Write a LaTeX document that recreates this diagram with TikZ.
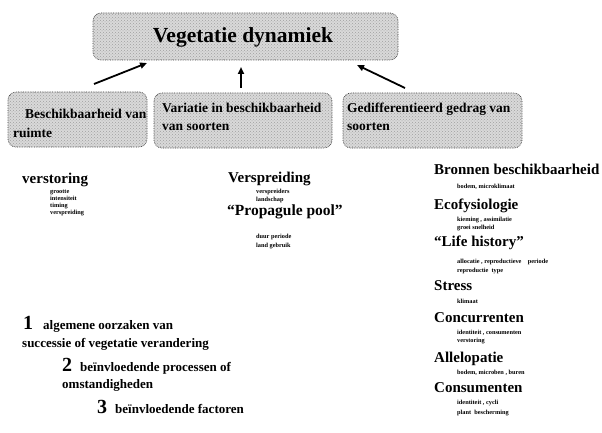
\documentclass[tikz,border=0pt]{standalone}
\usepackage{fontspec}
\setmainfont{Liberation Serif}
\usetikzlibrary{patterns,arrows.meta}
\begin{document}
\begin{tikzpicture}[x=1pt,y=-1pt,
  graybox/.style={draw=black!80, densely dotted, line width=0.7pt, rounded corners=8pt, fill=gray!30},
  dotfill/.style={pattern=crosshatch dots, pattern color=gray!75},
  boxtext/.style={anchor=base west, inner sep=0pt, font=\fontsize{13.5}{15}\selectfont\bfseries},
  head/.style={anchor=base west, inner sep=0pt, font=\fontsize{15}{17}\selectfont\bfseries},
  item/.style={anchor=base west, inner sep=0pt, font=\fontsize{6.3}{7}\selectfont\bfseries},
  legend/.style={anchor=base west, inner sep=0pt, font=\fontsize{13}{15}\selectfont\bfseries},
  num/.style={anchor=base west, inner sep=0pt, font=\fontsize{20}{22}\selectfont\bfseries},
  arr/.style={line width=1.8pt, -{Triangle[length=7pt,width=6pt]}}]
\useasboundingbox (0,0) rectangle (602,433);
% boxes
\draw[graybox] (93,13) rectangle (398,60);
\fill[dotfill, rounded corners=8pt] (93,13) rectangle (398,60);
\node[inner sep=0pt, font=\fontsize{21.5}{24}\selectfont\bfseries] (top) at (243,37) {Vegetatie dynamiek};
\draw[graybox] (8,92) rectangle (147,147);
\fill[dotfill, rounded corners=8pt] (8,92) rectangle (147,147);
\draw[graybox] (154,93) rectangle (332,148);
\fill[dotfill, rounded corners=8pt] (154,93) rectangle (332,148);
\draw[graybox] (343,93) rectangle (522,148);
\fill[dotfill, rounded corners=8pt] (343,93) rectangle (522,148);
\node[boxtext] (b1a) at (25,118) {Beschikbaarheid van};
\node[boxtext] (b1b) at (13,137) {ruimte};
\node[boxtext] (b2a) at (162,113) {Variatie in beschikbaarheid};
\node[boxtext] (b2b) at (162,131) {van soorten};
\node[boxtext] (b3a) at (347,113) {Gedifferentieerd gedrag van};
\node[boxtext] (b3b) at (347,131) {soorten};
% arrows
\coordinate (s1) at (94,84);
\coordinate (e1) at (147,63);
\coordinate (s2) at (241,88);
\coordinate (e2) at (241,67);
\coordinate (s3) at (405,88);
\coordinate (e3) at (357,65);
\draw[arr] (s1) -- (e1);
\draw[arr] (s2) -- (e2);
\draw[arr] (s3) -- (e3);
% left column
\node[head] (v1) at (22,183) {verstoring};
\node[item] (v1a) at (50,193) {grootte};
\node[item] (v1b) at (50,200) {intensiteit};
\node[item] (v1c) at (50,207) {timing};
\node[item] (v1d) at (50,214) {verspreiding};
% middle column
\node[head] (m1) at (228,182) {Verspreiding};
\node[item] (m1a) at (256,193) {verspreiders};
\node[item] (m1b) at (256,201) {landschap};
\node[head, font=\fontsize{15.5}{17}\selectfont\bfseries] (m2) at (227,215) {“Propagule pool”};
\node[item] (m2a) at (256,238) {duur periode};
\node[item] (m2b) at (256,247) {land gebruik};
% right column
\node[head] (r1) at (434,174) {Bronnen beschikbaarheid};
\node[item] (r1a) at (457,188) {bodem, microklimaat};
\node[head] (r2) at (434,209) {Ecofysiologie};
\node[item] (r2a) at (457,221) {kieming , assimilatie};
\node[item] (r2b) at (457,229) {groei snelheid};
\node[head] (r3) at (434,246) {“Life history”};
\node[item] (r3a) at (457,263) {allocatie , reproductieve\quad periode};
\node[item] (r3b) at (457,272) {reproductie\ \ type};
\node[head] (r4) at (434,290) {Stress};
\node[item] (r4a) at (457,303) {klimaat};
\node[head] (r5) at (434,322) {Concurrenten};
\node[item] (r5a) at (457,334) {identiteit , consumenten};
\node[item] (r5b) at (457,342) {verstoring};
\node[head] (r6) at (434,362) {Allelopatie};
\node[item] (r6a) at (457,374) {bodem, microben , buren};
\node[head] (r7) at (434,392) {Consumenten};
\node[item] (r7a) at (457,404) {identiteit , cycli};
\node[item] (r7b) at (457,414) {plant\ \ bescherming};
% legend
\node[num] (n1) at (23,329) {1};
\node[legend] (l1a) at (43,329) {algemene oorzaken van};
\node[legend] (l1b) at (22,347) {successie of vegetatie verandering};
\node[num] (n2) at (62,371) {2};
\node[legend] (l2a) at (80,371) {beïnvloedende processen of};
\node[legend] (l2b) at (62,388) {omstandigheden};
\node[num] (n3) at (97,413) {3};
\node[legend] (l3a) at (115,413) {beïnvloedende factoren};
\end{tikzpicture}
\end{document}
